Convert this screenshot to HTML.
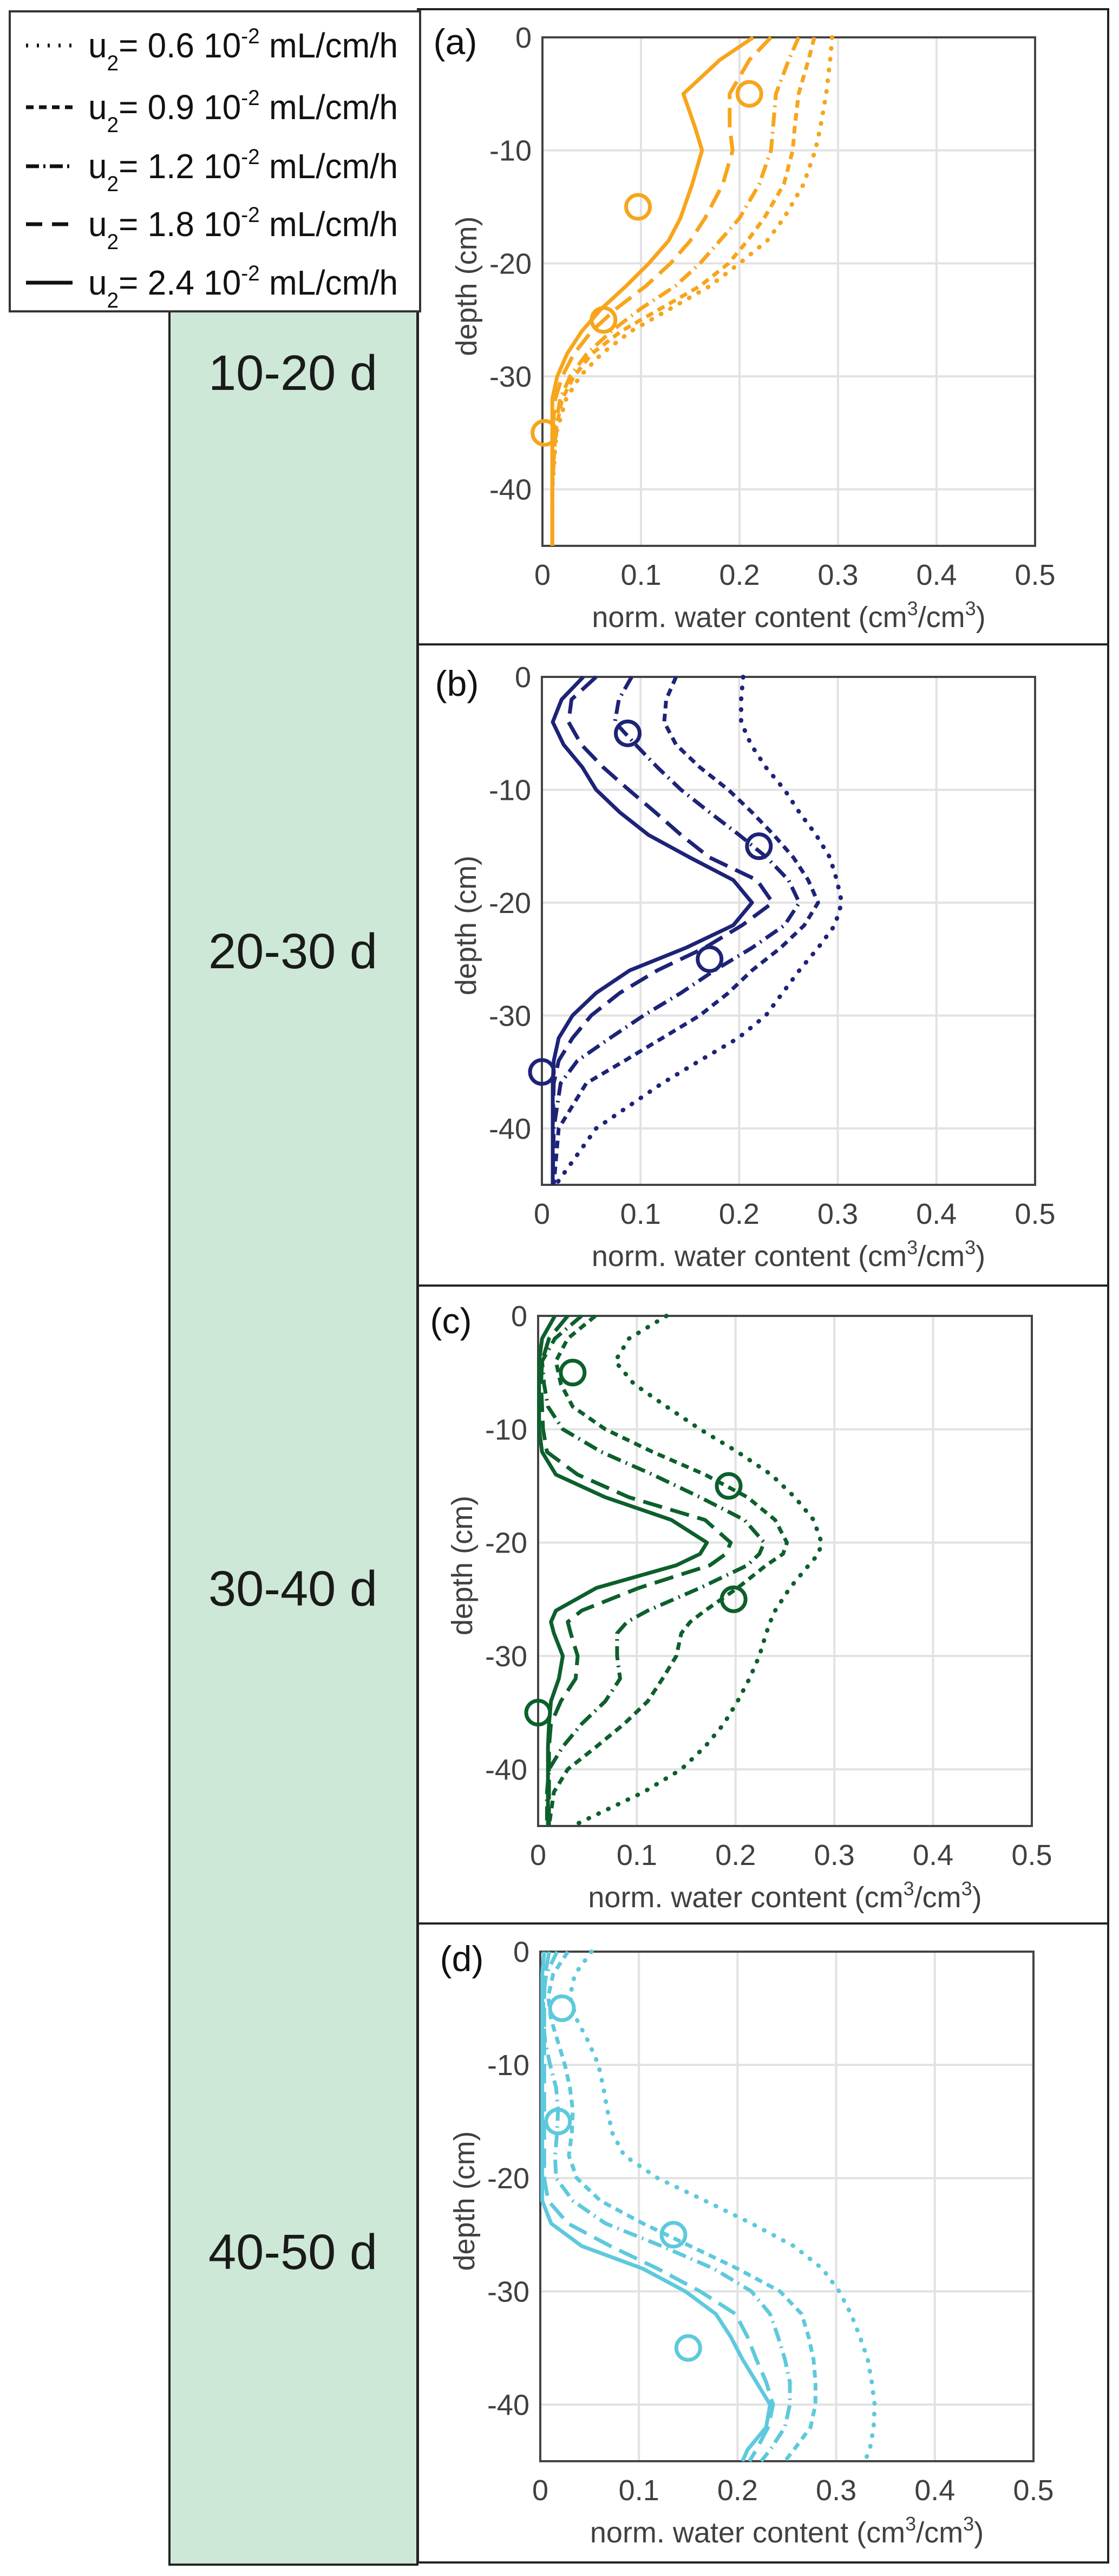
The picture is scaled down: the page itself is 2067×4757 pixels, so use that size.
<!DOCTYPE html>
<html><head><meta charset="utf-8"><style>
html,body{margin:0;padding:0;background:#fff;}
svg{display:block;}
text{font-family:"Liberation Sans Narrow","Liberation Sans",sans-serif;}
</style></head><body>
<svg id="fig" width="2067" height="4757" viewBox="0 0 2067 4757" xmlns="http://www.w3.org/2000/svg">
<rect x="0" y="0" width="2067" height="4757" fill="#fff"/>
<rect x="313" y="575" width="458" height="4161" fill="#cde8d6" stroke="#222" stroke-width="4"/>
<text x="541" y="720" font-size="92" text-anchor="middle" fill="#1a1a1a">10-20 d</text>
<text x="541" y="1788" font-size="92" text-anchor="middle" fill="#1a1a1a">20-30 d</text>
<text x="541" y="2965" font-size="92" text-anchor="middle" fill="#1a1a1a">30-40 d</text>
<text x="541" y="4190" font-size="92" text-anchor="middle" fill="#1a1a1a">40-50 d</text>
<rect x="772" y="17" width="1275" height="4715" fill="none" stroke="#222" stroke-width="4"/>
<line x1="772" y1="1190" x2="2047" y2="1190" stroke="#222" stroke-width="4"/>
<line x1="772" y1="2374" x2="2047" y2="2374" stroke="#222" stroke-width="4"/>
<line x1="772" y1="3552" x2="2047" y2="3552" stroke="#222" stroke-width="4"/>
<g id="legend">
<rect x="18" y="21" width="758" height="554" fill="#fff" stroke="#333" stroke-width="4"/>
</g>
<g id="plots"></g>
</svg>
<script>
// ---- data ----
const depthA = [0,-2,-5,-8,-10,-13,-16,-18,-20,-22,-24,-26,-28,-30,-32,-35,-40,-45];
const a06 = [0.294,0.292,0.288,0.282,0.277,0.265,0.245,0.228,0.2,0.17,0.13,0.09,0.06,0.038,0.024,0.014,0.01,0.01];
const a09 = [0.276,0.27,0.26,0.256,0.254,0.245,0.225,0.208,0.189,0.16,0.12,0.08,0.05,0.032,0.02,0.013,0.01,0.01];
const a12 = [0.26,0.25,0.237,0.234,0.232,0.22,0.2,0.18,0.16,0.135,0.1,0.07,0.045,0.028,0.018,0.012,0.01,0.01];
const a18 = [0.232,0.21,0.19,0.19,0.193,0.183,0.165,0.15,0.13,0.105,0.075,0.05,0.032,0.02,0.013,0.01,0.01,0.01];
const a24 = [0.214,0.18,0.143,0.155,0.162,0.152,0.14,0.128,0.108,0.085,0.06,0.04,0.025,0.015,0.01,0.01,0.01,0.01];
const obsAx = [0.21,0.097,0.062,0.002];
const obsDepth = [-5,-15,-25,-35];

const depthB = [0,-2,-4,-6,-8,-10,-12,-14,-16,-18,-20,-22,-24,-26,-28,-30,-32,-34,-36,-40,-45];
const b06 = [0.204,0.202,0.202,0.212,0.227,0.246,0.261,0.278,0.292,0.299,0.304,0.297,0.28,0.261,0.244,0.227,0.199,0.16,0.122,0.055,0.014];
const b09 = [0.136,0.126,0.124,0.136,0.16,0.189,0.213,0.235,0.255,0.27,0.28,0.266,0.242,0.213,0.189,0.16,0.122,0.084,0.045,0.017,0.012];
const b12 = [0.091,0.078,0.074,0.095,0.117,0.141,0.17,0.2,0.228,0.25,0.261,0.246,0.213,0.175,0.141,0.103,0.069,0.036,0.019,0.012,0.011];
const b18 = [0.055,0.03,0.027,0.04,0.062,0.088,0.115,0.141,0.17,0.218,0.234,0.203,0.165,0.117,0.079,0.05,0.031,0.017,0.012,0.011,0.011];
const b24 = [0.042,0.02,0.011,0.022,0.041,0.055,0.079,0.108,0.15,0.194,0.213,0.194,0.146,0.089,0.055,0.031,0.017,0.012,0.011,0.011,0.011];
const obsBx = [0.087,0.22,0.17,0.0];

const depthC = [0,-2,-4,-6,-8,-10,-12,-14,-16,-18,-20,-21,-22,-24,-26,-27,-28,-30,-32,-34,-36,-38,-40,-42,-45];
const c06 = [0.13,0.092,0.078,0.097,0.13,0.164,0.202,0.236,0.26,0.279,0.287,0.284,0.274,0.255,0.24,0.235,0.231,0.224,0.214,0.202,0.188,0.169,0.145,0.107,0.035];
const c09 = [0.058,0.03,0.018,0.023,0.035,0.068,0.116,0.169,0.212,0.24,0.252,0.248,0.231,0.202,0.169,0.154,0.145,0.14,0.126,0.111,0.087,0.059,0.03,0.016,0.011];
const c12 = [0.044,0.017,0.004,0.006,0.01,0.025,0.064,0.116,0.164,0.209,0.229,0.224,0.212,0.164,0.111,0.09,0.08,0.08,0.083,0.068,0.044,0.025,0.011,0.009,0.009];
const c18 = [0.03,0.011,0.004,0.003,0.004,0.005,0.009,0.04,0.092,0.169,0.195,0.19,0.174,0.102,0.044,0.03,0.033,0.04,0.038,0.023,0.013,0.011,0.011,0.011,0.011];
const c24 = [0.017,0.004,0.001,0.001,0.001,0.001,0.004,0.018,0.068,0.135,0.171,0.164,0.14,0.059,0.018,0.013,0.016,0.025,0.021,0.013,0.011,0.01,0.01,0.01,0.01];
const obsCx = [0.035,0.193,0.198,0.0];

const depthD = [0,-2,-4,-6,-8,-10,-12,-14,-16,-18,-20,-22,-24,-26,-28,-30,-32,-34,-36,-38,-40,-42,-44,-45];
const d06 = [0.052,0.035,0.03,0.037,0.049,0.059,0.064,0.068,0.073,0.085,0.119,0.167,0.214,0.257,0.286,0.303,0.315,0.324,0.332,0.336,0.339,0.338,0.334,0.329];
const d09 = [0.028,0.013,0.008,0.011,0.018,0.025,0.03,0.033,0.032,0.029,0.037,0.061,0.104,0.152,0.2,0.243,0.265,0.272,0.277,0.279,0.279,0.274,0.257,0.248];
const d12 = [0.017,0.006,0.003,0.003,0.005,0.01,0.016,0.018,0.017,0.015,0.016,0.033,0.066,0.123,0.176,0.214,0.233,0.241,0.248,0.253,0.253,0.248,0.233,0.224];
const d18 = [0.009,0.005,0.004,0.004,0.004,0.004,0.004,0.004,0.004,0.004,0.004,0.008,0.028,0.071,0.119,0.162,0.198,0.21,0.219,0.229,0.236,0.231,0.219,0.212];
const d24 = [0.004,0.002,0.002,0.002,0.002,0.002,0.002,0.002,0.002,0.002,0.002,0.002,0.011,0.042,0.104,0.147,0.178,0.193,0.205,0.219,0.233,0.229,0.21,0.205];
const obsDx = [0.022,0.018,0.135,0.15];

const xTicks = [0,0.1,0.2,0.3,0.4,0.5];
const xTickLabels = ["0","0.1","0.2","0.3","0.4","0.5"];
const yTicks = [0,-10,-20,-30,-40];
const yTickLabels = ["0","-10","-20","-30","-40"];
const legendRates = ["0.6","0.9","1.2","1.8","2.4"];

// ---- drawing ----
const NS = "http://www.w3.org/2000/svg";
const plots = document.getElementById('plots');
const dashes = ["1 19","14 10","26 10 3 10","36 16",""];
function mk(tag, parent){ const e=document.createElementNS(NS,tag); parent.appendChild(e); return e; }

const panels = [
  {id:'a', L:1002,R:1912,T:69,B:1008, color:'#f7a51c', depth:depthA, series:[a06,a09,a12,a18,a24], obs:obsAx, lx:841, ly:100},
  {id:'b', L:1001,R:1912,T:1250,B:2188, color:'#1d2376', depth:depthB, series:[b06,b09,b12,b18,b24], obs:obsBx, lx:844, ly:1285},
  {id:'c', L:994,R:1906,T:2430,B:3372, color:'#0d5f2c', depth:depthC, series:[c06,c09,c12,c18,c24], obs:obsCx, lx:833, ly:2462},
  {id:'d', L:998,R:1909,T:3604,B:4545, color:'#5ec9dc', depth:depthD, series:[d06,d09,d12,d18,d24], obs:obsDx, lx:853, ly:3640},
];

panels.forEach(p=>{
  const g = mk('g', plots);
  
  
  const xs = v => p.L + (v/0.5)*(p.R-p.L);
  const ys = d => p.T + (-d/45)*(p.B-p.T);
  xTicks.forEach((t,i)=>{
    if(i>0 && i<xTicks.length-1){
      const l=mk('line',g); l.setAttribute('x1',xs(t)); l.setAttribute('x2',xs(t)); l.setAttribute('y1',p.T); l.setAttribute('y2',p.B);
      l.setAttribute('stroke','#e2e2e2'); l.setAttribute('stroke-width','4');
      
      
    }
    const tk=mk('text',g); tk.setAttribute('x',xs(t)); tk.setAttribute('y',p.B+72); tk.setAttribute('font-size','54'); tk.setAttribute('fill','#404040'); tk.setAttribute('text-anchor','middle');
    tk.textContent = xTickLabels[i];
    
    
  });
  yTicks.forEach((t,i)=>{
    if(i>0){
      const l=mk('line',g); l.setAttribute('x1',p.L); l.setAttribute('x2',p.R); l.setAttribute('y1',ys(t)); l.setAttribute('y2',ys(t));
      l.setAttribute('stroke','#e2e2e2'); l.setAttribute('stroke-width','4');
      
      
    }
    const tk=mk('text',g); tk.setAttribute('x',p.L-20); tk.setAttribute('y',ys(t)+19); tk.setAttribute('font-size','54'); tk.setAttribute('fill','#404040'); tk.setAttribute('text-anchor','end');
    tk.textContent = yTickLabels[i];
    
    
  });
  const bx=mk('rect',g); bx.setAttribute('x',p.L); bx.setAttribute('y',p.T); bx.setAttribute('width',p.R-p.L); bx.setAttribute('height',p.B-p.T);
  bx.setAttribute('fill','none'); bx.setAttribute('stroke','#444'); bx.setAttribute('stroke-width','4');
  
  
  p.series.forEach((vals,si)=>{
    const pts = vals.map((v,k)=> xs(v).toFixed(1)+','+ys(p.depth[k]).toFixed(1)).join(' ');
    const pl=mk('polyline',g); pl.setAttribute('points',pts); pl.setAttribute('fill','none'); pl.setAttribute('stroke',p.color);
    pl.setAttribute('stroke-width', si===0 ? '8' : '7'); pl.setAttribute('stroke-linejoin','round');
    if(dashes[si]) pl.setAttribute('stroke-dasharray',dashes[si]);
    if(si===0) pl.setAttribute('stroke-linecap','round');
    
    
  });
  p.obs.forEach((v,k)=>{
    const c=mk('circle',g); c.setAttribute('cx',xs(v)); c.setAttribute('cy',ys(obsDepth[k])); c.setAttribute('r','22');
    c.setAttribute('fill','none'); c.setAttribute('stroke',p.color); c.setAttribute('stroke-width','7');
    
    
  });
  const pl=mk('text',g); pl.setAttribute('x',p.lx); pl.setAttribute('y',p.ly); pl.setAttribute('font-size','66'); pl.setAttribute('fill','#111'); pl.setAttribute('text-anchor','middle');
  pl.textContent='('+p.id+')';
  
  
  const xl=mk('text',g); xl.setAttribute('x',(p.L+p.R)/2); xl.setAttribute('y',p.B+150); xl.setAttribute('font-size','54'); xl.setAttribute('fill','#404040'); xl.setAttribute('text-anchor','middle');
  xl.innerHTML='norm. water content (cm<tspan dy="-22" font-size="36">3</tspan><tspan dy="22">/cm</tspan><tspan dy="-22" font-size="36">3</tspan><tspan dy="22">)</tspan>';
  
  
  const yl=mk('text',g); const cy=(p.T+p.B)/2-10;
  yl.setAttribute('x',p.L-122); yl.setAttribute('y',cy); yl.setAttribute('font-size','54'); yl.setAttribute('fill','#404040'); yl.setAttribute('text-anchor','middle');
  yl.setAttribute('transform','rotate(-90 '+(p.L-122)+' '+cy+')');
  yl.textContent='depth (cm)';
  
  
});

const lg = document.getElementById('legend');
const rowY = [84,198,307,414,522];
legendRates.forEach((r,i)=>{
  const l=mk('line',lg); l.setAttribute('x1',48); l.setAttribute('x2',134); l.setAttribute('y1',rowY[i]); l.setAttribute('y2',rowY[i]);
  l.setAttribute('stroke','#111'); l.setAttribute('stroke-width','7');
  if(dashes[i]) l.setAttribute('stroke-dasharray', i===0?"4 16": i===1?"14 10": i===2?"24 8 4 8":"30 18");
  
  
  const t=mk('text',lg); t.setAttribute('x',163); t.setAttribute('y',rowY[i]+22); t.setAttribute('font-size','64'); t.setAttribute('fill','#111');
  t.setAttribute('textLength','572'); t.setAttribute('lengthAdjust','spacingAndGlyphs');
  t.innerHTML='u<tspan dy="24" font-size="40">2</tspan><tspan dy="-24">= '+r+'  10</tspan><tspan dy="-26" font-size="40">-2</tspan><tspan dy="26"> mL/cm/h</tspan>';
  
  
});
</script>
</body></html>
